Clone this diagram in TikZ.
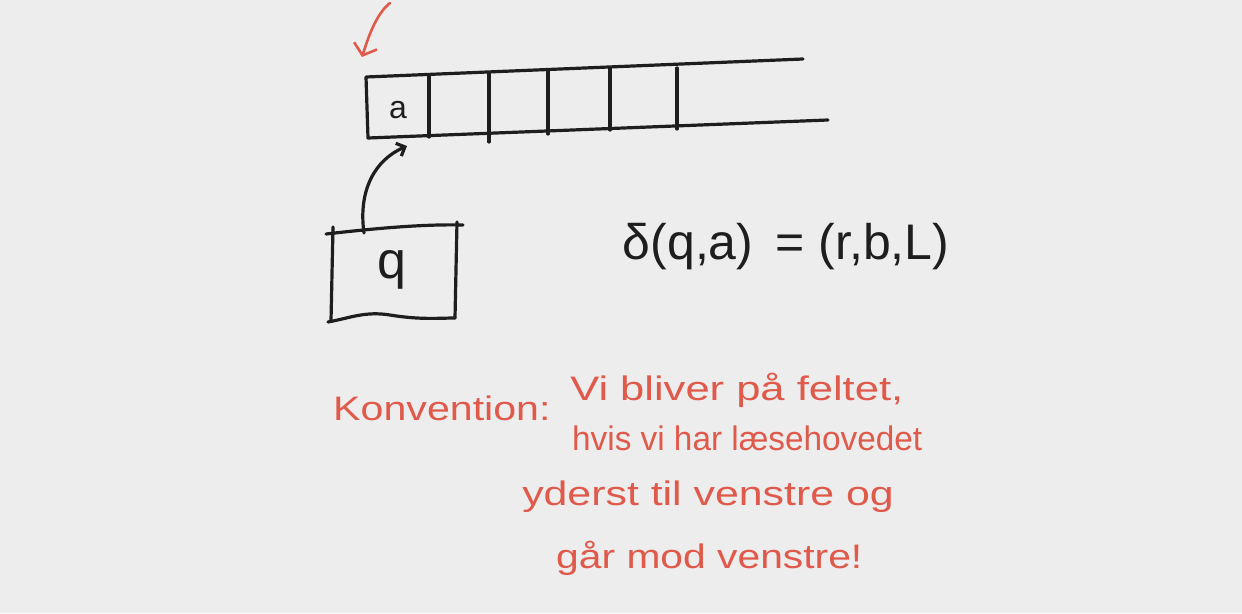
\documentclass[tikz,border=0pt]{standalone}
\usepackage{fontspec}
\setmainfont{Liberation Sans}
\usetikzlibrary{arrows.meta}
\definecolor{bg}{HTML}{EDEDED}
\definecolor{ink}{HTML}{1E1E1E}
\definecolor{redink}{HTML}{E05A4C}
\tikzset{
  pen/.style={draw=ink, line width=3.2pt, line cap=round, line join=round},
  redpen/.style={draw=redink, line width=2.6pt, line cap=round, line join=round},
  symb/.style={font=\fontsize{32}{36}\selectfont, text=ink, inner sep=0pt},
  note/.style={font=\fontsize{34}{38}\selectfont, text=redink, inner sep=0pt, anchor=west},
}
\begin{document}
\begin{tikzpicture}[x=1pt,y=-1pt]
\fill[bg] (0,0) rectangle (1242,613);
\useasboundingbox (0,0) rectangle (1242,613);
% tape
\draw[pen] (803,59) -- (366,77) -- (368,138) -- (828,120);
\foreach \x/\t/\b in {429/75/137, 489/73/142, 548/70/134, 610/68/130, 677/68/129}
  \draw[pen] (\x,\t) -- (\x,\b);
\node[symb] (a) at (398,110) {a};
\coordinate (cellbot) at (407,146);
% red pointer
\coordinate (redstart) at (390,3);
\coordinate (redtip) at (362,57);
\draw[redpen, -{Straight Barb[length=10pt,width=24pt]}] (redstart) .. controls (376,14) and (368,38) .. (redtip);
% head box
\draw[pen] (326,234) .. controls (370,229) and (420,224) .. (463,225);
\draw[pen] (333,227) -- (331,321);
\draw[pen] (457,222) -- (455,318);
\draw[pen] (328,322) .. controls (350,318) and (365,311) .. (390,315) .. controls (420,320) and (440,318) .. (455,318);
\node[symb, font=\fontsize{52}{56}\selectfont] (q) at (392,270) {q};
\coordinate (headtop) at (364,233);
\draw[pen, -{Straight Barb[length=7pt,width=14pt]}] (headtop) .. controls (358,190) and (375,160) .. (cellbot);
% formula
\node[text=ink, inner sep=0pt, font=\fontsize{50}{54}\selectfont] (delta) at (786,247) {δ(q,a)\, = (r,b,L)};
% note
\node[note, xscale=1.21] (konv) at (333,408) {Konvention:};
\node[note, xscale=1.28] (l1) at (570,390) {Vi bliver på feltet,};
\node[note, xscale=0.98] (l2) at (572,438) {hvis vi har læsehovedet};
\node[note, xscale=1.26] (l3) at (522,497) {yderst til venstre og};
\node[note, xscale=1.2] (l4) at (556,558) {går mod venstre!};
\end{tikzpicture}
\end{document}
